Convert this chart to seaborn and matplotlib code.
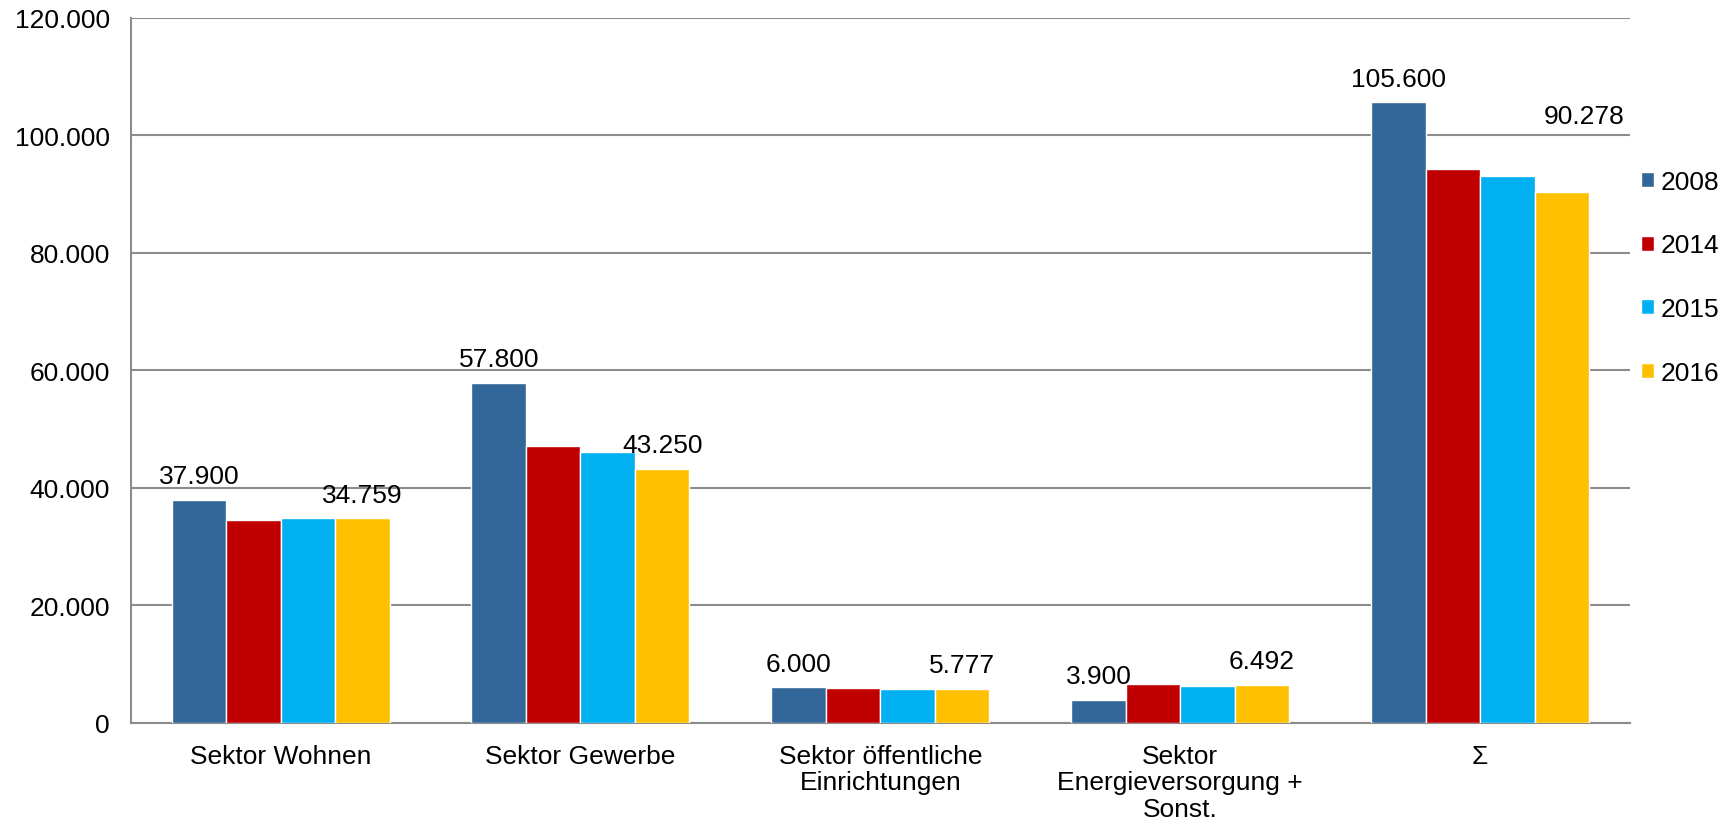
import pandas as pd
import matplotlib.pyplot as plt
import seaborn as sns

sns.set_style("white")
plt.rcParams['font.family'] = ['Liberation Sans', 'DejaVu Sans']
plt.rcParams['text.color'] = 'black'

# Data
sectors = ["Sektor Wohnen", "Sektor Gewerbe", "Sektor öffentliche\nEinrichtungen",
           "Sektor\nEnergieversorgung +\nSonst.", "Σ"]
years = ["2008", "2014", "2015", "2016"]
v2008 = [37900, 57800, 6000, 3900, 105600]
v2014 = [34500, 47100, 5900, 6650, 94200]
v2015 = [34900, 46100, 5700, 6300, 93100]
v2016 = [34759, 43250, 5777, 6492, 90278]
colors = ["#336699", "#C00000", "#00B0F0", "#FFC000"]

rows = []
for year, vals in zip(years, [v2008, v2014, v2015, v2016]):
    for s, v in zip(sectors, vals):
        rows.append({'sector': s, 'year': year, 'value': v})
df = pd.DataFrame(rows)

def de_fmt(v):
    return f"{v:,.0f}".replace(",", ".")

fig = plt.figure(figsize=(17.35, 8.28), dpi=100)
ax = fig.add_axes([0.0753, 0.126, 0.8642, 0.8513])

sns.barplot(data=df, x='sector', y='value', hue='year', palette=colors,
            width=0.727, saturation=1, ax=ax, zorder=3)

ax.set_ylim(0, 120000)
ax.set_yticks(range(0, 120001, 20000))
ax.set_yticklabels([de_fmt(t) for t in range(0, 120001, 20000)])
ax.set_xlabel("")
ax.set_ylabel("")
ax.yaxis.grid(True, color='#8c8c8c', linewidth=1.5, zorder=0)
ax.set_axisbelow(True)
for side in ['top', 'right']:
    ax.spines[side].set_visible(False)
for side in ['left', 'bottom']:
    ax.spines[side].set_color('#8c8c8c')
    ax.spines[side].set_linewidth(1.5)
ax.tick_params(axis='both', length=0, labelsize=19, colors='black')
ax.tick_params(axis='x', pad=15)
ax.tick_params(axis='y', pad=15)
for lbl in ax.get_xticklabels():
    lbl.set_linespacing(1.15)

# Value labels only for 2008 and 2016 (the 90.278 one was moved by hand)
moved = {(3, 4): (16, 38)}
for ci in [0, 3]:
    for i, bar in enumerate(ax.containers[ci]):
        dx, dy = moved.get((ci, i), (0, 0))
        ax.annotate(de_fmt(bar.get_height()),
                    (bar.get_x() + bar.get_width() / 2, bar.get_height()),
                    xytext=(dx, 12 + dy), textcoords='offset points',
                    ha='center', va='baseline', fontsize=19, color='black')

leg = ax.legend(loc='center left', bbox_to_anchor=(1.007, 0.632), frameon=False,
                fontsize=19, handlelength=0.5, handleheight=0.5, handletextpad=0.25,
                labelspacing=1.5, borderpad=0, borderaxespad=0)
for t in leg.get_texts():
    t.set_color('black')

fig.savefig("out.png", dpi=100)
